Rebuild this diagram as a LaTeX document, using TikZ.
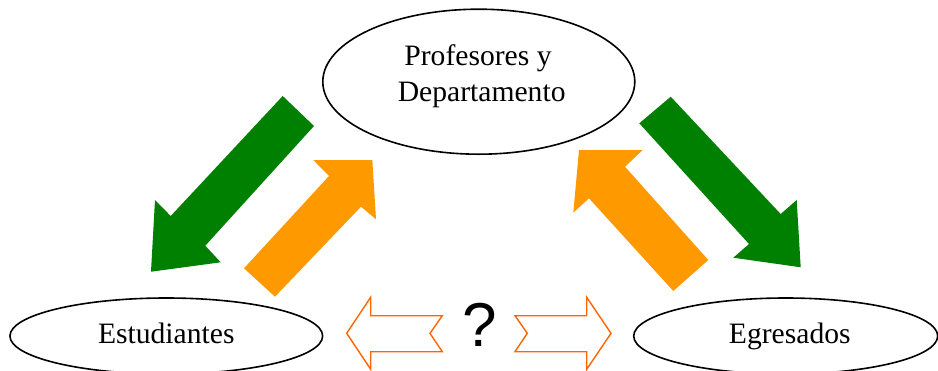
\documentclass[tikz,border=0pt]{standalone}
\usepackage{fontspec}
\setmainfont{Liberation Serif}
\newfontfamily\qfont{Liberation Sans}
\usetikzlibrary{shapes.geometric}
\definecolor{dgreen}{RGB}{0,128,0}
\definecolor{borange}{RGB}{255,153,0}
\definecolor{lorange}{RGB}{255,102,0}
\tikzset{
  oval/.style={ellipse, draw=black, line width=1.6pt, inner sep=0pt, fill=white},
  lbl/.style={anchor=base, inner sep=0pt, font=\fontsize{29.6}{36}\selectfont},
  hollow/.style={draw=lorange, line width=1.4pt, line join=miter, fill=white},
}
\begin{document}
\begin{tikzpicture}[x=1pt,y=-1pt]
\useasboundingbox (0,0) rectangle (938,370);
% ellipses
\node[oval, minimum width=312pt, minimum height=145pt] (prof) at (478.8,81.7) {};
\node[oval, minimum width=312.7pt, minimum height=76pt] (est) at (166.3,336) {};
\node[oval, minimum width=304pt, minimum height=76pt] (egr) at (785.7,336) {};
\node[lbl] (proft1) at (478,65) {Profesores y};
\node[lbl] (proft2) at (481.7,101.7) {Departamento};
\node[lbl] (estt) at (166.3,343) {Estudiantes};
\node[lbl] (egrt) at (789.8,343.3) {Egresados};
% block arrows
\fill[dgreen] (282.7,96) -- (170.7,216) -- (155,200) -- (151,271.7) -- (220.7,262.3) -- (205.3,245.7) -- (314,126) -- cycle;
\fill[borange] (244,268.3) -- (329,176) -- (313.3,160) -- (372.3,160) -- (376,219.3) -- (361,206.7) -- (275,296.7) -- cycle;
\fill[dgreen] (670.7,96.7) -- (780.7,214) -- (796.7,200) -- (800.7,267.3) -- (733.3,257.7) -- (749,244) -- (639.3,123.3) -- cycle;
\fill[borange] (708.3,260) -- (625,166.7) -- (642.7,150) -- (579,150) -- (573.3,212.7) -- (589,198.3) -- (673.3,291) -- cycle;
% hollow arrows
\draw[hollow] (346.7,333.3) -- (370.7,297.3) -- (370.7,315.7) -- (442.3,315.7) -- (430,333.3) -- (442.3,351.7) -- (370.7,351.7) -- (370.7,369.3) -- cycle;
\draw[hollow] (515,315.7) -- (586.7,315.7) -- (586.7,297.3) -- (611,333.3) -- (586.7,369.3) -- (586.7,351.7) -- (515,351.7) -- (527.3,333.3) -- cycle;
\node[anchor=base, inner sep=0pt, font=\qfont\fontsize{62}{70}\selectfont] (q) at (479.3,346) {?};
\end{tikzpicture}
\end{document}
